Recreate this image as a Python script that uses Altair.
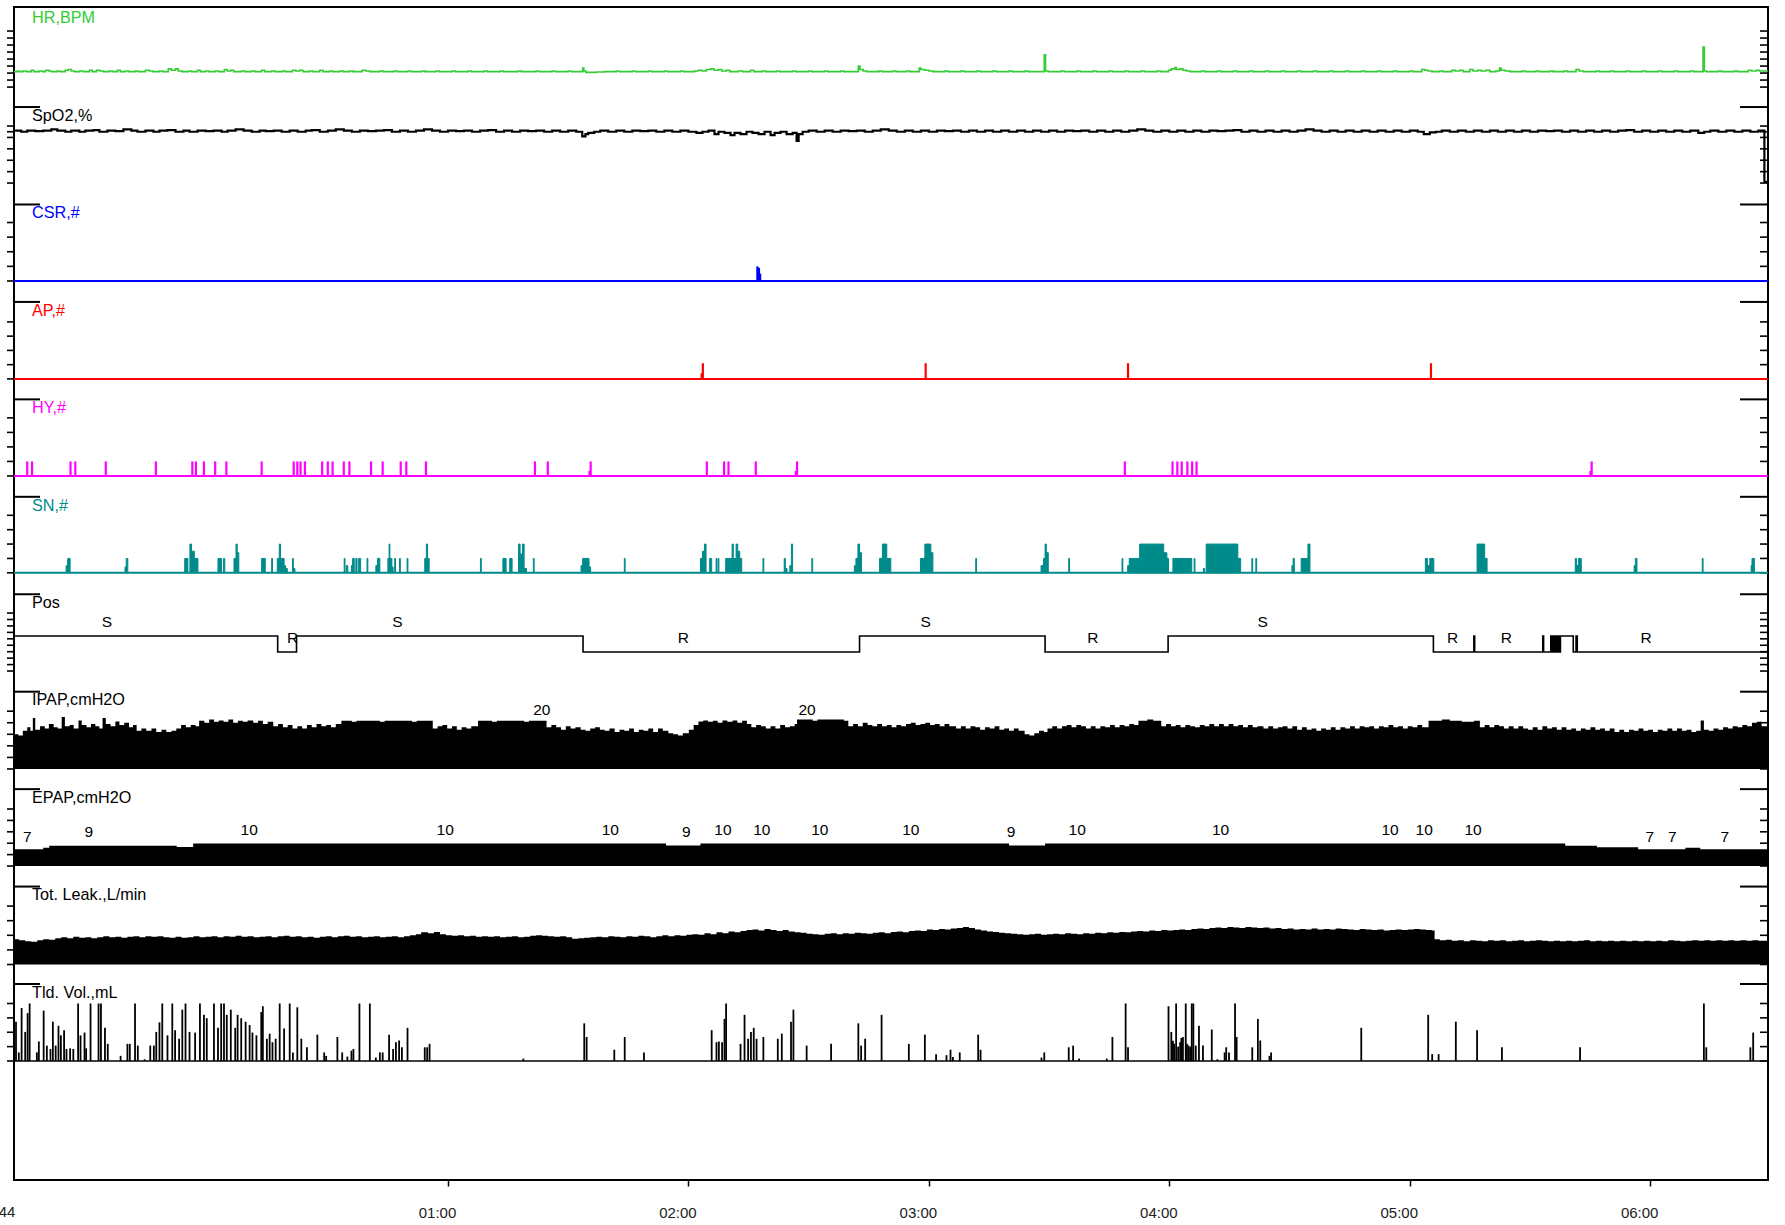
import altair as alt
import pandas as pd

# ---------------- time axis (minutes after midnight) ----------------
T0, T1 = -48.3, 389.4
HOUR_TICKS = [60, 120, 180, 240, 300, 360]
START_LABEL = "44"

# ---------------- tracks ----------------
TRACK_NAMES = ["HR,BPM", "SpO2,%", "CSR,#", "AP,#", "HY,#", "SN,#", "Pos",
               "IPAP,cmH2O", "EPAP,cmH2O", "Tot. Leak.,L/min", "Tld. Vol.,mL"]
TRACK_COLORS = ["#33CC33", "#000000", "#0000FF", "#FF0000", "#FF00FF", "#008B8B",
                "#000000", "#000000", "#000000", "#000000", "#000000"]
TRACK_RANGE = [(40, 120), (50, 100), (0, 4), (0, 4), (0, 4), (0, 4), (-1.19, 2.44),
               (0, 25), (0, 25), (0, 60), (0, 1000)]
TRACK_TICK_COUNT = [8, None, 4, 4, 4, 4, 9, 5, 5, 4, 4]
SPO2_TICKS = [50, 60, 70, 80, 90, 95, 100]

# ---------------- data ----------------
HR = [(-48.3,62),(-47.5,63),(-47.0,62),(-46.1,63),(-45.2,62),(-44.0,64),(-43.4,62),(-42.0,63),(-41.2,62),(-40.4,64),
      (-39.6,63),(-39.0,62),(-37.5,63),(-36.8,62),(-35.5,64),(-34.8,65),(-34.0,63),(-33.2,62),(-31.9,63),(-31.0,62),
      (-29.5,64),(-28.8,62),(-27.7,64),(-26.9,63),(-26.0,62),(-24.6,63),(-23.8,62),(-22.5,64),(-21.8,62),(-20.5,63),
      (-19.7,62),(-18.0,63),(-17.3,62),(-15.5,64),(-14.5,63),(-13.6,62),(-12.0,63),(-11.2,62),(-9.8,66),(-9.0,64),
      (-8.0,66),(-7.3,63),(-6.4,62),(-4.8,63),(-4.0,62),(-2.5,64),(-1.8,62),(-0.5,63),(0.3,62),(2.0,63),(2.8,62),
      (4.2,65),(4.9,63),(5.8,64),(6.5,62),(8.5,63),(9.3,62),(11.0,63),(11.8,62),(13.5,64),(14.3,62),(16.0,63),
      (16.8,62),(18.8,63),(19.5,62),(21.2,64),(22.0,63),(23.0,64),(23.8,62),(25.5,63),(26.3,62),(28.0,64),(28.8,62),
      (30.5,63),(31.2,62),(33.0,63),(33.8,62),(35.5,63),(36.3,62),(38.6,64),(39.5,63),(40.5,62),(43.0,63),(43.8,62),
      (46.5,63),(47.3,62),(50.0,63),(50.8,62),(53.5,63),(54.3,62),(57.0,63),(57.8,62),(61.0,63),(61.8,62),(65.0,63),
      (65.8,62),(69.0,63),(69.8,62),(73.0,63),(73.8,62),(77.5,63),(78.3,62),(82.0,63),(82.8,62),(86.0,63),(86.8,62),
      (90.0,63),(90.8,62),(93.6,67),(93.9,63),(94.4,61),(97.0,61.5),(99.0,62),(102.0,63),(102.8,62),(106.0,63),
      (106.8,62),(110.0,63),(110.8,62),(114.0,63),(114.8,62),(118.0,63),(118.8,62),(121.5,63),(122.5,64),(123.4,63),
      (124.5,65),(125.5,66),(126.4,64),(127.5,65),(128.3,63),(129.5,64),(130.3,62),(132.5,63),(133.5,62),(135.5,64),
      (136.3,62),(138.5,63),(139.3,62),(142.0,63),(142.8,62),(146.0,63),(146.8,62),(150.0,63),(150.8,62),(154.0,63),
      (154.8,62),(158.0,63),(158.8,62),(162.4,70),(162.8,65),(163.6,63),(164.5,62),(167.5,63),(168.3,62),(171.0,63),
      (171.8,62),(174.5,63),(175.3,62),(177.6,67),(178.0,65),(179.0,64),(180.0,63),(181.0,62),(184.0,63),(184.8,62),
      (188.0,63),(188.8,62),(192.0,63),(192.8,62),(196.0,63),(196.8,62),(200.0,63),(200.8,62),(204.0,63),(204.8,62),
      (208.8,86),(209.1,63),(209.8,62),(213.0,63),(213.8,62),(217.0,63),(217.8,62),(221.0,63),(221.8,62),(225.0,63),
      (225.8,62),(229.0,63),(229.8,62),(233.0,63),(233.8,62),(237.0,63),(237.8,62),(239.8,64),(240.5,66),(241.4,68),
      (241.8,65),(242.6,66),(243.4,64),(244.3,63),(245.2,62),(248.0,63),(248.8,62),(252.0,63),(252.8,62),(256.0,63),
      (256.8,62),(260.0,63),(260.8,62),(264.0,63),(264.8,62),(268.0,63),(268.8,62),(272.0,63),(272.8,62),(276.0,63),
      (276.8,62),(280.0,63),(280.8,62),(284.0,63),(284.8,62),(288.0,63),(288.8,62),(292.0,63),(292.8,62),(296.0,63),
      (296.8,62),(300.0,63),(300.8,62),(303.0,65),(303.8,64),(304.6,63),(305.5,62),(307.5,63),(308.3,62),(310.5,64),
      (311.3,63),(312.5,64),(313.3,62),(315.0,65),(315.8,63),(317.0,64),(317.8,63),(319.0,64),(320.0,62),(321.5,63),
      (322.4,67),(322.8,64),(323.8,63),(325.0,62),(328.0,63),(328.8,62),(331.5,63),(332.3,62),(335.0,63),(335.8,62),
      (338.5,63),(339.3,62),(341.5,65),(342.3,63),(343.3,62),(346.5,63),(347.3,62),(350.0,63),(350.8,62),(354.0,63),
      (354.8,62),(358.0,63),(358.8,62),(362.0,63),(362.8,62),(366.0,63),(366.8,62),(370.0,63),(370.8,62),(373.2,97),
      (373.5,63),(374.0,62),(377.0,63),(377.8,62),(381.0,63),(381.8,62),(384.5,64),(385.3,63),(386.5,64),(387.3,63),
      (389.4,63)]

SPO2 = [(-48.3,96),(-46.5,95),(-45,96),(-43,95.5),(-41,96),(-39,97),(-37.5,96),(-35.5,95),(-34,96),(-32,95),(-30.5,96),
        (-28.5,96.5),(-27,95),(-25,96),(-23,95.5),(-21,97),(-19,96),(-17.5,95),(-15.5,96),(-13.5,95),(-12,96),
        (-10,96.5),(-8,95),(-6,96),(-4.5,95),(-2.5,96),(-0.5,95.5),(1.5,96),(3.5,95),(5,96),(7,97),(9,96),(11,95),
        (13,96),(14.5,95.5),(16.5,96),(18.5,95),(20.5,96),(22.5,95),(24.5,96),(26,96.5),(28,95),(30,96),(32,97),(34,96),
        (36,95),(38,96),(40,95.5),(42,96),(44,96.5),(46,95),(48,96),(50,95),(52,96),(54,97),(56,96),(58,95),(60,96),
        (62,95.5),(64,96),(66,95),(68,96),(70,96.5),(72,95),(74,96),(76,95),(78,96),(80,95.5),(82,96),(84,95),(86,96),
        (88,95),(90,96),(92,95),(93.5,91),(94.3,93),(95,94),(96.5,95),(98,96),(100,95),(102,96),(104,95),(106,96),
        (108,95.5),(110,96),(112,95),(114,96),(116,95),(118,96),(120,95),(122,94),(123.5,95),(125,96),(126.5,93),
        (127.5,95),(129,94),(130.5,92),(131.5,94),(133,93),(134.5,95),(136,94),(137.5,93),(139,95),(140.5,92),(141.5,94),
        (143,95),(144.5,93),(146,94),(147,87),(147.5,93),(148.5,95),(150,96),(152,95),(154,96),(156,95),(158,96),
        (160,95.5),(162,96),(164,95),(166,96),(168,97),(170,96),(172,95),(174,96),(176,95),(178,96),(180,95),(182,96),
        (184,95.5),(186,96),(188,95),(190,96),(192,95),(194,96),(196,95),(198,96),(200,95),(202,96),(204,95),(206,96),
        (208,95),(210,96),(212,95),(214,96),(216,95.5),(218,96),(220,95),(222,96),(224,95),(226,96),(228,95),(230,96),
        (232,97),(234,96),(236,95),(238,96),(240,95),(242,96),(244,95),(246,96),(248,95),(250,96),(252,95.5),(254,96),
        (256,96.5),(258,95),(260,96),(262,95),(264,96),(266,95),(268,96),(270,95),(272,96),(274,97),(276,96),(278,95),
        (280,96),(282,95),(284,96),(286,95),(288,96),(290,95),(292,96),(294,95),(296,96),(298,95),(300,96),(302,95),
        (303.5,93),(305,94.5),(306.5,95),(308,96),(310,95),(312,96),(314,95),(316,96),(318,95),(320,96),(322,95),
        (324,96),(326,95),(328,96),(330,95),(332,96),(334,95.5),(336,96),(338,95),(340,96),(342,95),(344,96),(346,95),
        (348,96),(350,95),(352,96),(354,96.5),(356,95),(358,96),(360,95),(362,96),(364,95),(366,96),(368,95),(370,96),
        (372,94),(373.5,95),(375,96),(377,95),(379,96),(381,95),(383,96),(385,95),(387,96),(388.5,51),(389.4,51)]

CSR = [(137.2,1.0),(137.6,0.9),(137.9,0.5)]
AP = [(123.3,0.4),(123.6,1.1),(179.2,1.1),(229.7,1.1),(305.3,1.1)]
HY = [(-45.0,1),(-43.8,1),(-34.2,1),(-33.0,1),(-25.4,1),(-12.9,1),(-3.8,1),(-2.9,1),(-0.9,1),(1.9,1),(4.7,1),
      (13.5,1),(21.5,1),(22.4,1),(23.2,1),(24.3,1),(28.6,1),(30.0,1),(31.2,1),(34.0,1),(35.4,1),(40.8,1),(43.7,1),
      (48.2,1),(49.6,1),(54.5,1),(81.7,1),(84.9,1),(95.3,0.35),(95.6,1),(124.6,1),(128.9,1),(130.0,1),(136.8,1),
      (146.8,0.35),(147.1,1),(228.9,1),(240.8,1),(242.0,1),(243.1,1),(244.5,1),(245.7,1),(246.8,1),(345.1,0.35),(345.4,1)]

SN = [(-35.3,-34.9,0.5),(-34.9,-34.3,1),(-20.6,-20.3,0.4),(-20.3,-19.9,1),(-5.7,-4.9,1),(-4.4,-4.0,2),(-4.0,-3.3,1.5),
      (-3.3,-2.4,1),(2.6,3.5,1),(4.0,4.3,1),(6.6,7.1,1),(7.1,7.4,2),(7.4,7.8,1.4),(13.5,14.4,1),(16.0,16.2,1),
      (17.4,17.9,1),(17.9,18.2,2),(18.2,19.1,1),(19.1,19.5,0.5),(19.5,19.9,0.3),(21.2,21.4,1),(21.4,21.8,0.3),
      (34.1,34.3,1),(34.6,35.0,0.5),(35.9,36.2,0.5),(36.2,36.6,1),(37.0,37.3,1),(37.7,38.2,1),(39.8,40.0,1),
      (42.0,42.4,0.5),(42.4,43.0,1),(45.0,45.3,1),(45.3,45.5,2),(45.5,46.0,1),(46.0,46.3,0.4),(46.7,46.9,1),
      (47.9,48.1,1),(49.8,50.0,1),(54.2,54.6,1),(54.6,54.9,2),(54.9,55.3,1),(68.1,68.3,1),(73.7,74.5,1),(75.4,76.0,1),
      (77.6,78.0,2),(78.0,78.6,1.3),(78.6,79.0,2),(79.0,79.6,0.3),(81.3,81.5,1),(93.2,93.6,0.5),(93.6,95.2,1),
      (95.2,95.6,0.4),(104.0,104.2,1),(123.0,123.5,1),(123.5,124.0,1.5),(124.0,124.4,2),(125.3,125.8,1),(126.9,127.1,1),
      (127.4,127.6,1),(129.3,130.9,1),(130.9,131.2,2),(131.2,131.9,1),(131.9,132.3,2),(132.3,132.8,1.5),(132.8,133.3,1),
      (138.6,138.8,1),(143.9,144.2,1),(144.2,144.6,0.3),(145.3,145.7,0.5),(145.7,146.0,2),(150.8,151.0,1),
      (161.4,161.8,0.5),(161.8,162.3,1),(162.3,162.7,2),(162.7,163.2,1.4),(167.7,168.4,1),(168.4,169.5,2),(169.5,170.5,1),
      (177.9,179.0,1),(179.0,180.5,2),(180.5,181.0,1.4),(191.7,191.9,1),(208.0,208.6,0.5),(208.6,209.0,1),(209.0,209.3,2),
      (209.3,209.8,1.4),(214.9,215.1,1),(228.2,228.4,1),(229.6,230.0,0.5),(230.0,230.6,1),(230.6,232.6,1),(232.6,238.6,2),
      (238.6,239.4,1.4),(239.4,239.8,1),(240.9,245.6,1),(246.2,246.4,1),(248.5,248.8,0.3),(249.2,257.1,2),(257.1,257.8,1),
      (260.6,260.8,1),(261.6,261.8,1),(270.6,270.9,0.5),(270.9,271.2,1),(272.9,274.6,1),(274.6,275.1,2),(303.9,304.4,1),
      (304.4,305.0,0.5),(305.0,306.0,1),(316.8,318.7,2),(318.7,319.3,1),(341.3,341.6,1),(341.6,342.1,0.5),(342.1,342.8,1),
      (356.0,356.3,0.5),(356.3,356.7,1),(373.0,373.2,1),(385.2,385.4,0.5),(385.4,386.0,1)]

POS = [(-48.3,1),(17.5,0),(22.2,1),(93.7,0),(162.7,1),(209.0,0),(239.7,1),(305.9,0),(316.0,1),(316.2,0),
       (333.2,1),(333.4,0),(335.2,1),(335.5,0),(335.8,1),(336.1,0),(336.4,1),(336.7,0),(337.0,1),(337.3,0),
       (337.6,1),(340.8,0),(341.5,1),(341.8,0),(389.4,0)]
POS_LABELS = [(-25.1,"S",1),(47.4,"S",1),(179.2,"S",1),(263.3,"S",1),(21.2,"R",0),(118.7,"R",0),
              (220.9,"R",0),(310.7,"R",0),(324.1,"R",0),(359.0,"R",0)]

IPAP = [(-48.3,15.0),(-47.2,14.5),(-46.1,16.5),(-45.0,18.0),(-44.2,16.5),(-43.6,22.0),(-43.0,17.0),(-41.8,18.5),
        (-40.6,17.5),(-39.6,19.5),(-38.4,18.0),(-37.4,17.5),(-36.4,22.5),(-35.6,18.5),(-34.4,19.0),(-33.4,17.5),
        (-32.2,21.0),(-31.4,19.0),(-30.2,18.0),(-29.1,19.5),(-28.0,18.5),(-27.0,17.5),(-26.2,22.0),(-25.4,19.5),
        (-24.2,18.5),(-23.0,20.5),(-22.0,19.0),(-20.8,20.0),(-19.6,18.0),(-18.6,19.0),(-17.7,16.5),(-16.5,17.5),
        (-15.3,16.5),(-14.0,17.5),(-12.8,16.0),(-11.5,17.0),(-10.3,16.0),(-9.0,16.5),(-7.8,17.5),(-6.6,19.0),
        (-5.4,18.0),(-4.2,19.0),(-3.0,18.5),(-2.1,20.9),(-0.8,20.0),(0.4,21.4),(1.6,20.4),(2.8,21.0),(4.0,20.4),
        (5.2,21.4),(6.4,20.0),(7.6,20.9),(8.8,20.4),(10.0,21.0),(11.4,20.0),(12.6,20.9),(13.8,19.5),(15.0,20.4),
        (16.4,18.5),(17.6,19.5),(18.8,18.0),(20.0,19.0),(21.2,17.5),(22.4,18.5),(23.6,17.5),(24.8,19.0),(26.0,18.0),
        (27.2,19.5),(28.4,18.5),(29.6,19.0),(30.8,18.0),(32.0,19.5),(33.4,20.9),(36.0,20.4),(37.2,20.9),(40.0,20.9),
        (43.0,20.4),(44.2,20.9),(48.0,20.9),(51.0,20.4),(52.2,20.9),(56.2,17.5),(57.4,18.5),(58.6,19.0),(59.8,17.5),
        (61.0,18.5),(62.2,17.0),(63.4,18.0),(64.6,17.5),(65.8,18.5),(67.5,20.9),(71.0,20.4),(72.2,20.9),(76.0,20.9),
        (79.0,20.4),(80.2,20.9),(84.6,18.0),(85.8,19.0),(87.0,18.0),(88.2,17.0),(89.4,18.5),(90.6,17.5),(91.8,18.0),
        (93.1,17.0),(94.3,16.5),(95.5,17.5),(96.7,18.0),(97.9,17.0),(99.1,16.5),(100.3,17.5),(101.6,16.0),(102.8,17.0),
        (104.0,16.5),(105.2,17.5),(106.4,16.0),(107.6,17.0),(108.8,16.5),(110.0,17.5),(111.2,16.0),(112.4,17.5),
        (113.6,16.5),(115.0,15.5),(116.2,15.0),(117.4,14.5),(118.6,15.5),(120.1,17.0),(121.3,19.0),(122.5,20.5),
        (123.7,21.0),(124.9,20.4),(126.1,20.9),(127.3,20.0),(128.5,21.0),(129.7,20.4),(131.0,21.0),(132.2,20.0),
        (133.4,20.9),(134.6,19.5),(135.7,18.0),(136.9,19.0),(138.1,18.5),(139.3,17.5),(140.5,18.5),(141.7,17.5),
        (142.9,19.0),(144.1,18.0),(145.3,18.5),(146.5,19.5),(147.1,21.4),(151.0,20.9),(152.2,21.4),(156.0,21.4),
        (158.8,20.9),(159.9,18.5),(161.1,19.5),(162.3,18.5),(163.5,20.0),(164.7,19.0),(165.9,18.5),(167.1,19.5),
        (168.3,18.5),(169.5,19.0),(170.7,18.0),(171.9,19.0),(173.1,18.5),(174.3,19.5),(175.5,20.0),(176.7,19.0),
        (177.9,19.5),(179.1,20.0),(180.3,19.0),(181.5,19.5),(182.7,18.5),(183.9,19.5),(185.1,18.5),(186.8,17.5),
        (188.0,18.5),(189.2,17.5),(190.4,18.5),(191.6,18.0),(192.8,17.0),(194.0,18.0),(195.2,17.5),(196.4,18.5),
        (197.6,17.0),(198.8,17.5),(200.0,16.5),(201.2,17.5),(202.4,16.5),(203.9,15.0),(205.1,14.5),(206.3,15.5),
        (207.5,16.5),(208.7,16.0),(209.6,17.5),(210.8,18.5),(212.0,17.5),(213.2,18.5),(214.4,19.0),(215.6,18.0),
        (216.8,19.0),(218.0,18.5),(219.2,17.5),(220.4,18.5),(221.6,17.5),(222.8,18.5),(224.0,18.0),(225.2,19.0),
        (226.4,18.0),(227.6,19.0),(228.8,18.5),(230.0,19.5),(231.2,19.0),(232.3,20.9),(234.5,21.4),(236.0,20.9),
        (238.0,18.5),(239.2,19.5),(240.4,18.5),(241.6,19.0),(242.8,18.0),(244.0,19.0),(245.2,18.5),(246.4,18.0),
        (247.6,19.0),(248.8,18.5),(250.0,19.5),(251.2,18.5),(252.4,19.4),(253.6,18.5),(254.8,19.5),(256.0,18.5),
        (257.2,19.0),(258.4,18.0),(259.6,19.0),(260.8,18.0),(262.0,18.5),(263.5,17.5),(264.7,18.5),(265.9,17.5),
        (267.1,18.0),(268.3,18.5),(269.5,17.5),(270.7,18.5),(271.9,17.0),(273.1,18.0),(274.3,17.0),(275.5,17.5),
        (276.7,16.5),(277.9,17.5),(279.1,17.0),(280.3,18.0),(281.5,17.0),(282.7,18.0),(283.9,17.5),(285.1,18.5),
        (286.3,17.5),(287.5,18.5),(288.7,18.0),(289.9,18.5),(291.1,17.5),(292.3,18.5),(293.5,18.0),(294.7,19.0),
        (295.9,18.0),(297.1,18.5),(298.3,17.5),(299.5,18.5),(300.7,18.0),(301.9,19.0),(303.1,18.0),(304.7,20.9),
        (308.0,21.4),(310.0,20.9),(313.0,20.4),(316.0,20.9),(317.5,18.0),(318.7,19.0),(319.9,18.0),(321.1,19.0),
        (322.3,18.5),(323.5,17.5),(324.7,18.5),(325.9,17.5),(327.1,18.5),(328.3,17.5),(329.5,17.0),(330.7,18.0),
        (331.9,17.0),(333.1,18.5),(334.3,17.5),(335.5,18.0),(336.7,17.0),(337.9,18.0),(339.1,17.0),(340.3,17.5),
        (341.5,16.5),(342.7,17.5),(343.9,17.0),(345.1,18.0),(346.3,17.0),(347.5,17.5),(348.7,16.5),(349.9,17.5),
        (351.1,16.0),(352.3,17.0),(353.5,16.0),(354.7,17.0),(355.9,16.5),(357.1,17.5),(358.3,16.5),(359.5,17.0),
        (360.7,16.0),(361.9,17.0),(363.1,16.5),(364.3,17.5),(365.5,16.5),(366.7,17.5),(367.9,16.5),(369.1,17.0),
        (370.3,16.0),(371.5,16.5),(372.6,21.0),(373.4,17.0),(374.6,16.5),(375.8,17.5),(377.0,17.0),(378.2,18.0),
        (379.4,17.5),(380.6,18.5),(381.8,18.0),(383.0,19.0),(384.2,18.5),(385.4,20.0),(386.6,20.4),(387.8,18.5),
        (389.4,18.5)]
IPAP_LABELS = [(83.4,"20",20),(149.6,"20",20)]

EPAP = [(-48.3,7.3),(-41.0,8.0),(-39.5,8.9),(-7.7,8.3),(-3.6,9.9),(114.4,9.0),(123.0,9.9),(200.0,9.0),(209.0,9.9),
        (338.8,8.9),(346.7,8.2),(357.0,7.3),(368.8,8.0),(372.5,7.3),(389.4,7.3)]
EPAP_LABELS = [(-45.0,"7",7),(-29.6,"9",9),(10.4,"10",10),(59.3,"10",10),(100.5,"10",10),(119.5,"9",9),
               (128.6,"10",10),(138.3,"10",10),(152.8,"10",10),(175.5,"10",10),(200.5,"9",9),(217.0,"10",10),
               (252.8,"10",10),(295.1,"10",10),(303.6,"10",10),(315.8,"10",10),(359.9,"7",7),(365.5,"7",7),(378.6,"7",7)]

LEAK = [(-48.3,26),(-47.0,25),(-45.5,24),(-44.0,23.5),(-42.5,25),(-41.0,26),(-39.5,25.5),(-38.0,27),(-36.5,28),
        (-35.0,27),(-33.5,28.5),(-32.0,27.5),(-30.5,28),(-29.0,27),(-27.5,28),(-26.0,29),(-24.5,28),(-23.0,28.5),
        (-21.5,27.5),(-20.0,28.5),(-18.5,29),(-17.0,28),(-15.5,29),(-14.0,28.5),(-12.5,29),(-11.0,28),(-9.5,27.5),
        (-8.0,28.5),(-6.5,27.5),(-5.0,28),(-3.5,29),(-2.0,28),(-0.5,28.5),(1.0,29),(2.5,28),(4.0,29),(5.5,28.5),
        (7.0,29.5),(8.5,28.5),(10.0,29),(11.5,28),(13.0,28.5),(14.5,29),(16.0,28),(17.5,29),(19.0,29.5),(20.5,28.5),
        (22.0,29),(23.5,28),(25.0,28.5),(26.5,27.5),(28.0,28.5),(29.5,29),(31.0,28),(32.5,29),(34.0,29.5),(35.5,28.5),
        (37.0,29),(38.5,28),(40.0,28.5),(41.5,29),(43.0,28),(44.5,28.5),(46.0,29),(47.5,28),(49.0,29),(50.5,30),
        (52.0,31),(53.3,33),(55.0,32),(56.5,33.5),(58.0,31),(59.5,30),(61.0,29.5),(62.5,30),(64.0,29),(65.5,29.5),
        (67.0,28.5),(68.5,29),(70.0,28.5),(71.5,29),(73.0,28),(74.5,28.5),(76.0,29),(77.5,28),(79.0,28.5),(80.5,29.5),
        (82.0,30),(83.5,29.5),(85.0,29),(86.5,28.5),(88.0,29),(89.5,28),(91.0,26.5),(92.5,27),(94.0,27.5),(95.5,28),
        (97.0,28.5),(98.5,28),(100.0,29),(101.5,28.5),(103.0,28),(104.5,29),(106.0,28.5),(107.5,29.5),(109.0,29),
        (110.5,28),(112.0,29),(113.5,30),(115.0,29),(116.5,30),(118.0,29.5),(119.5,30.5),(121.0,31),(122.5,30.5),
        (124.0,32),(125.5,31),(127.0,33),(128.5,32),(130.0,34),(131.5,33),(133.0,34.5),(134.5,35.5),(136.0,36),
        (137.5,35),(139.0,36.5),(140.5,35.5),(142.0,34.5),(143.5,35.5),(145.0,34),(146.5,33),(148.0,32.5),(149.5,31.5),
        (151.0,31),(152.5,30.5),(154.0,31.5),(155.5,32),(157.0,31),(158.5,32),(160.0,31.5),(161.5,32.5),(163.0,32),
        (164.5,31.5),(166.0,32.5),(167.5,33),(169.0,32),(170.5,33.5),(172.0,34),(173.5,33),(175.0,34.5),(176.5,35),
        (178.0,34.5),(179.5,36),(181.0,35.5),(182.5,36.5),(184.0,36),(185.5,37),(187.0,37.5),(188.5,38.5),(190.0,37.5),
        (191.5,36),(193.0,35),(194.5,34),(196.0,33.5),(197.5,32.5),(199.0,32),(200.5,31.5),(202.0,31),(203.5,30.5),
        (205.0,31),(206.5,31.5),(208.0,30.5),(209.5,31),(211.0,31.5),(212.5,31),(214.0,32),(215.5,31.5),(217.0,31),
        (218.5,32),(220.0,31.5),(221.5,32.5),(223.0,32),(224.5,33),(226.0,32.5),(227.5,33.5),(229.0,33),(230.5,34),
        (232.0,34.5),(233.5,34),(235.0,35),(236.5,34.5),(238.0,35.5),(239.5,35),(241.0,35.5),(242.5,36),(244.0,35.5),
        (245.5,36.5),(247.0,37),(248.5,36.5),(250.0,37.5),(251.5,38),(253.0,37.5),(254.5,38.5),(256.0,38),(257.5,37.5),
        (259.0,38.5),(260.5,38),(262.0,37.5),(263.5,38),(265.0,37),(266.5,37.5),(268.0,36.5),(269.5,37),(271.0,36),
        (272.5,36.5),(274.0,36),(275.5,37),(277.0,36),(278.5,36.5),(280.0,36),(281.5,37),(283.0,36.5),(284.5,36),
        (286.0,35.5),(287.5,36.5),(289.0,36),(290.5,35.5),(292.0,36),(293.5,35),(295.0,35.5),(296.5,36),(298.0,35.5),
        (299.5,36),(301.0,36.5),(302.5,36),(304.0,35.5),(305.5,35),(306.2,26),(307.5,25),(309.0,25.5),(310.5,24.5),
        (312.0,25),(313.5,24),(315.0,25),(316.5,24.5),(318.0,24),(319.5,25),(321.0,24.5),(322.5,25),(324.0,24),
        (325.5,24.5),(327.0,25),(328.5,24),(330.0,24.5),(331.5,25),(333.0,24.5),(334.5,24),(336.0,24.5),(337.5,24),
        (339.0,24.5),(340.5,24),(342.0,24.5),(343.5,25),(345.0,24),(346.5,24.5),(348.0,24),(349.5,24.5),(351.0,24),
        (352.5,24.5),(354.0,24),(355.5,24.5),(357.0,24),(358.5,24.5),(360.0,24),(361.5,24.5),(363.0,24),(364.5,25),
        (366.0,24.5),(367.5,24),(369.0,24.5),(370.5,25),(372.0,24.5),(373.5,25),(375.0,24.5),(376.5,25),(378.0,24.5),
        (379.5,25),(381.0,24.5),(382.5,25),(384.0,24.5),(385.5,25),(387.0,24.5),(389.4,24.5)]

TLDVOL = [(-47.8,684),(-47.1,149),(-46.4,922),(-45.5,506),(-44.9,833),(-44.4,1000),(-42.6,149),(-42.1,339),
          (-40.9,875),(-40.1,268),(-39.2,208),(-38.6,684),(-37.9,268),(-37.2,613),(-36.6,446),(-35.8,536),(-35.2,208),
          (-34.3,220),(-33.5,208),(-32.3,1000),(-31.7,446),(-30.7,494),(-30.3,220),(-29.2,1000),(-27.2,1000),
          (-26.6,1000),(-25.6,577),(-24.9,298),(-21.7,89),(-20.0,298),(-19.4,298),(-18.1,1000),(-17.4,268),(-15.7,30),
          (-14.3,268),(-13.4,268),(-12.8,506),(-12.0,672),(-11.3,1000),(-10.0,446),(-8.8,1000),(-8.1,536),(-7.1,387),
          (-6.3,893),(-5.5,1000),(-4.5,506),(-3.1,494),(-1.9,1000),(-0.9,803),(-0.2,744),(1.6,1000),(2.6,577),
          (3.4,1000),(4.1,1000),(4.8,803),(5.8,893),(6.9,577),(7.5,803),(8.4,744),(9.5,684),(10.5,625),(11.2,494),
          (12.2,446),(13.4,851),(13.8,952),(14.8,387),(15.5,476),(16.2,327),(17.0,387),(18.0,1000),(19.1,565),
          (20.5,1000),(21.3,149),(22.4,934),(23.4,387),(24.8,238),(27.4,458),(29.1,149),(29.6,89),(32.4,417),
          (33.6,149),(34.9,77),(35.9,179),(36.4,208),(37.9,1000),(40.5,1000),(42.0,60),(43.0,149),(43.7,149),
          (45.3,458),(46.3,208),(47.0,327),(47.8,357),(48.5,238),(49.9,577),(54.2,238),(54.8,238),(55.4,298),
          (78.8,42),(94.0,655),(94.6,417),(101.5,196),(104.1,417),(108.9,149),(125.8,536),(127.0,327),(127.6,339),
          (128.4,327),(129.0,732),(129.4,1000),(133.0,298),(134.0,803),(134.9,387),(135.6,506),(136.3,577),(137.0,387),
          (138.7,417),(142.3,387),(143.3,476),(145.6,684),(146.2,893),(149.5,268),(155.6,298),(162.4,655),(163.1,268),
          (164.1,387),(168.2,803),(175.0,298),(179.0,458),(181.8,119),(184.4,101),(185.4,196),(186.0,71),(187.7,149),
          (192.3,458),(192.9,196),(208.1,60),(208.8,149),(214.9,238),(216.0,268),(217.5,42),(224.4,42),(225.8,417),
          (229.1,1000),(229.7,238),(239.8,952),(240.5,506),(240.9,350),(241.2,300),(241.7,1000),(242.2,250),(242.7,327),
          (243.0,400),(243.4,417),(244.1,1000),(244.4,300),(244.8,268),(245.2,250),(245.6,1000),(246.0,1000),(246.6,268),
          (247.4,613),(248.4,268),(250.6,547),(252.0,30),(253.8,149),(254.2,238),(254.9,149),(256.4,1000),(256.8,417),
          (260.7,238),(262.1,732),(262.7,357),(265.0,89),(265.4,149),(287.9,577),(304.6,803),(305.6,119),(307.2,119),
          (311.5,684),(316.8,536),(323.0,238),(342.5,238),(373.4,1000),(374.0,238),(385.0,238),(385.7,494)]

# ---------------- layout helpers ----------------
D_TOP, D_BOT = -0.0267, 12.0113
W, H = 1754, 1173
F_LO = [0.205, 0.22, 0.215, 0.21, 0.214, 0.22, 0.212, 0.207, 0.211, 0.20, 0.21]
F_HI = [0.78, 0.805, 0.815, 0.795, 0.81, 0.81, 0.807, 0.80, 0.796, 0.80, 0.80]
FONT = "Liberation Sans"


def dpos(i, v):
    lo, hi = TRACK_RANGE[i]
    f = F_LO[i] + (v - lo) * (F_HI[i] - F_LO[i]) / (hi - lo)
    return i + 1 - f


xs = alt.Scale(domain=[T0, T1], nice=False, zero=False)
ys = alt.Scale(domain=[D_TOP, D_BOT], reverse=True, nice=False, zero=False)
XAX = alt.Axis(values=HOUR_TICKS, title=None, grid=False, domain=False, tickSize=6, tickWidth=1.5,
               tickColor="black", labelExpr="'0' + floor(datum.value / 60) + ':00'", labelFont=FONT,
               labelFontSize=15, labelColor="#222", labelOffset=-11, labelPadding=26, labelBaseline="middle")


def X(f):
    return alt.X(f, type="quantitative", scale=xs, axis=XAX)


def Y(f):
    return alt.Y(f, type="quantitative", scale=ys, axis=None)


def series(pairs, i):
    zero = TRACK_RANGE[i][0] if i in (0, 1) else 0
    return pd.DataFrame({"t": [p[0] for p in pairs], "d": [dpos(i, p[1]) for p in pairs],
                         "d0": [dpos(i, zero) for _ in pairs]})


layers = []

# axis ticks of every track and track separators
tick_rows = []
for i in range(11):
    if TRACK_TICK_COUNT[i] is None:
        ds = [dpos(i, v) for v in SPO2_TICKS]
    else:
        n = TRACK_TICK_COUNT[i]
        ds = [i + 1 - (F_LO[i] + (F_HI[i] - F_LO[i]) * k / n) for k in range(n + 1)]
    tick_rows += [{"d": d} for d in ds]
ticks = pd.DataFrame(tick_rows)
seps = pd.DataFrame({"d": list(range(1, 11))})

layers.append(alt.Chart(ticks).mark_rule(color="black", strokeWidth=1.6, xOffset=-7).encode(
    x=alt.datum(T0), x2=alt.datum(T0), y=Y("d:Q")))
layers.append(alt.Chart(ticks).mark_rule(color="black", strokeWidth=1.6, xOffset=-8).encode(
    x=alt.datum(T1), x2=alt.datum(T1), y=Y("d:Q")))
layers.append(alt.Chart(seps).mark_rule(color="black", strokeWidth=2, x2Offset=26).encode(
    x=alt.datum(T0), x2=alt.datum(T0), y=Y("d:Q")))
layers.append(alt.Chart(seps).mark_rule(color="black", strokeWidth=2, xOffset=-28).encode(
    x=alt.datum(T1), x2=alt.datum(T1), y=Y("d:Q")))

# track labels
lab = pd.DataFrame({"name": TRACK_NAMES, "color": TRACK_COLORS, "d": [i + 0.09 for i in range(11)]})
layers.append(alt.Chart(lab).mark_text(align="left", baseline="middle", dx=18, font=FONT,
                                       fontSize=16.2).encode(
    x=alt.datum(T0), y=Y("d:Q"), text="name:N", color=alt.Color("color:N", scale=None)))

# HR & SpO2 lines
layers.append(alt.Chart(series(HR, 0)).mark_line(interpolate="step-after", color="#33CC33", strokeWidth=1.6).encode(
    x=X("t:Q"), y=Y("d:Q")))
layers.append(alt.Chart(series(SPO2, 1)).mark_line(interpolate="step-after", color="black", strokeWidth=2.2).encode(
    x=X("t:Q"), y=Y("d:Q")))

# event tracks: baselines and spikes
for i, data, col in [(2, CSR, "#0000FF"), (3, AP, "#FF0000"), (4, HY, "#FF00FF")]:
    base = pd.DataFrame({"d": [dpos(i, 0)]})
    layers.append(alt.Chart(base).mark_rule(color=col, strokeWidth=2).encode(
        x=alt.datum(T0), x2=alt.datum(T1), y=Y("d:Q")))
    layers.append(alt.Chart(series(data, i)).mark_rule(color=col, strokeWidth=2.2).encode(
        x=X("t:Q"), y=Y("d:Q"), y2="d0:Q"))

sn = pd.DataFrame({"t0": [e[0] for e in SN], "t1": [e[1] for e in SN],
                   "d": [dpos(5, e[2]) for e in SN], "d0": [dpos(5, 0) for e in SN]})
layers.append(alt.Chart(pd.DataFrame({"d": [dpos(5, 0)]})).mark_rule(color="#008B8B", strokeWidth=2).encode(
    x=alt.datum(T0), x2=alt.datum(T1), y=Y("d:Q")))
layers.append(alt.Chart(sn).mark_rect(color="#008B8B", stroke="#008B8B", strokeWidth=1).encode(
    x=X("t0:Q"), x2="t1:Q", y=Y("d:Q"), y2="d0:Q"))

# position
layers.append(alt.Chart(series(POS, 6)).mark_line(interpolate="step-after", color="black", strokeWidth=1.6).encode(
    x=X("t:Q"), y=Y("d:Q")))
pl = pd.DataFrame({"t": [p[0] for p in POS_LABELS], "txt": [p[1] for p in POS_LABELS],
                   "d": [dpos(6, p[2]) for p in POS_LABELS]})
layers.append(alt.Chart(pl).mark_text(dy=-14, baseline="middle", font=FONT, fontSize=15.5,
                                      color="black").encode(x=X("t:Q"), y=Y("d:Q"), text="txt:N"))

# pressure / leak areas
for i, data in [(7, IPAP), (8, EPAP), (9, LEAK)]:
    layers.append(alt.Chart(series(data, i)).mark_area(interpolate="step-after", color="black").encode(
        x=X("t:Q"), y=Y("d:Q"), y2="d0:Q"))
for i, labels in [(7, IPAP_LABELS), (8, EPAP_LABELS)]:
    df = pd.DataFrame({"t": [p[0] for p in labels], "txt": [p[1] for p in labels],
                       "d": [dpos(i, p[2]) for p in labels]})
    layers.append(alt.Chart(df).mark_text(dy=-13, baseline="middle", font=FONT, fontSize=15.5,
                                          color="black").encode(x=X("t:Q"), y=Y("d:Q"), text="txt:N"))

# tidal volume
layers.append(alt.Chart(pd.DataFrame({"d": [dpos(10, 0)]})).mark_rule(color="black", strokeWidth=1.6).encode(
    x=alt.datum(T0), x2=alt.datum(T1), y=Y("d:Q")))
layers.append(alt.Chart(series(TLDVOL, 10)).mark_rule(color="black", strokeWidth=1.8).encode(
    x=X("t:Q"), y=Y("d:Q"), y2="d0:Q"))

# start-time stub label
layers.append(alt.Chart(pd.DataFrame({"txt": [START_LABEL]})).mark_text(
    dx=-7, dy=32, baseline="middle", font=FONT, fontSize=15, color="#222").encode(
    x=alt.datum(T0), y=alt.datum(D_BOT), text="txt:N"))

chart = alt.layer(*layers).properties(
    width=W, height=H, autosize=alt.AutoSizeParams(type="none"),
    padding={"left": 14, "top": 7, "right": 17, "bottom": 45}, background="white"
).configure_view(stroke="black", strokeWidth=2)

chart.save("out.html", embed_options={"renderer": "svg", "actions": False})
